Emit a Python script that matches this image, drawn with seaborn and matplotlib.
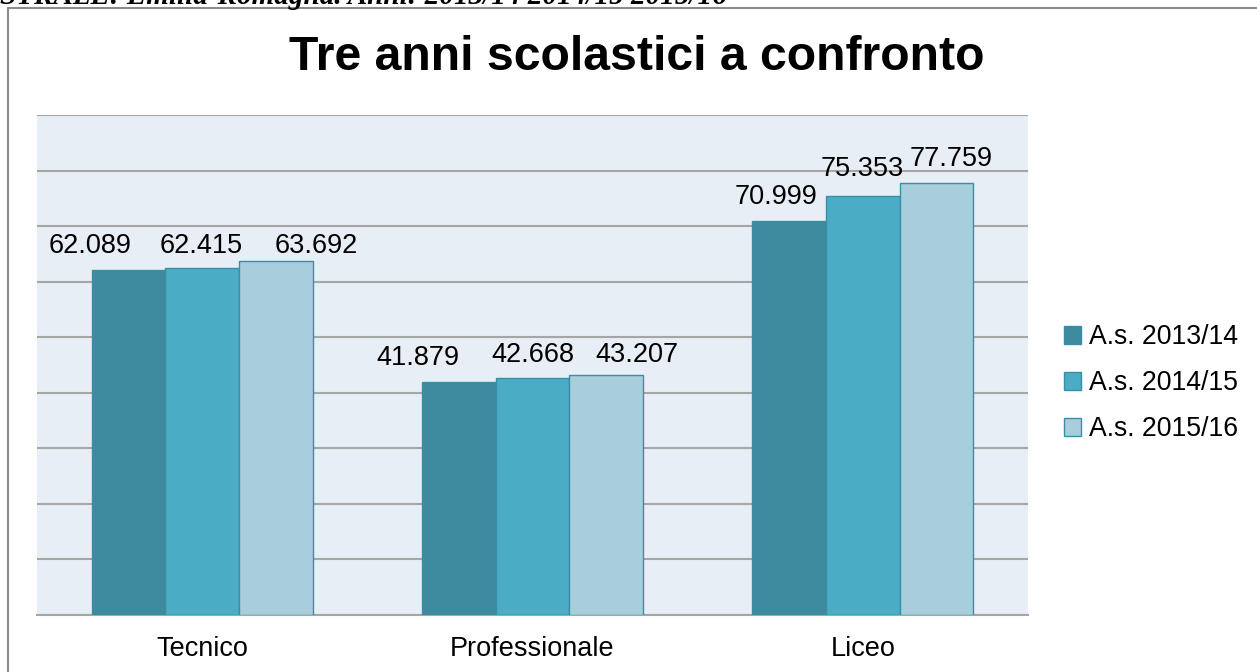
import numpy as np
import pandas as pd
import matplotlib
matplotlib.use("Agg")
import matplotlib.pyplot as plt
from matplotlib.patches import Patch
from matplotlib.lines import Line2D
import seaborn as sns

# dati
categorie = ["Tecnico", "Professionale", "Liceo"]
anni = ["A.s. 2013/14", "A.s. 2014/15", "A.s. 2015/16"]
as_2013_14 = [62089, 41879, 70999]
as_2014_15 = [62415, 42668, 75353]
as_2015_16 = [63692, 43207, 77759]
colori = ["#3E8A9F", "#4BACC6", "#A8CEDC"]

# spostamento delle etichette (pixel) come nell'originale: per anno, per categoria
label_dx = [[-38, -41, -13], [-1, 0, -1], [40, 31, 15]]
label_dy = [[17, 17, 17], [15, 16, 20], [8, 13, 17]]

df = pd.DataFrame({
    "tipo": categorie * 3,
    "anno": [a for a in anni for _ in categorie],
    "studenti": as_2013_14 + as_2014_15 + as_2015_16,
})

sns.set_style("white")
plt.rcParams['font.family'] = ['Liberation Sans', 'DejaVu Sans']
plt.rcParams['text.color'] = 'black'
plt.rcParams['xtick.color'] = 'black'

W, H = 1257, 672
fig = plt.figure(figsize=(W / 100, H / 100), dpi=100)
ax = fig.add_axes([37 / W, 1 - 615 / H, (1028 - 37) / W, (615 - 115) / H])
ax.set_facecolor("#E8EEF5")

sns.barplot(data=df, x="tipo", y="studenti", hue="anno", order=categorie,
            hue_order=anni, palette=colori, width=0.67, saturation=1,
            edgecolor="#3A8FA6", linewidth=1, legend=False, ax=ax, zorder=3)

for i, cont in enumerate(ax.containers):
    for j, (bar, v) in enumerate(zip(cont.patches, cont.datavalues)):
        txt = f"{int(v):,}".replace(",", ".")
        ax.annotate(txt, (bar.get_x() + bar.get_width() / 2, bar.get_height()),
                    xytext=(label_dx[i][j] * 0.72, label_dy[i][j] * 0.72),
                    textcoords="offset points", ha="center", va="baseline",
                    fontsize=19.5, color="black", zorder=5)

ax.set_xlim(-0.5, 2.5)
ax.set_ylim(0, 90000)
ax.set_yticks(np.arange(0, 90001, 10000))
ax.yaxis.grid(True, color="#A6A6A6", linewidth=1.5, zorder=0)
ax.set_axisbelow(True)
ax.tick_params(axis="y", left=False, labelleft=False)
ax.set_xticks([0, 1, 2])
ax.set_xticklabels(categorie, fontsize=19.5)
ax.set_xticks([-0.5, 0.5, 1.5, 2.5], minor=True)
ax.tick_params(axis="x", which="major", length=0, pad=15)
ax.tick_params(axis="x", which="minor", length=8, width=1.5, color="#A6A6A6")
ax.set_xlabel("")
ax.set_ylabel("")
for s in ["left", "right", "top"]:
    ax.spines[s].set_visible(False)
ax.spines["bottom"].set_color("#A6A6A6")
ax.spines["bottom"].set_linewidth(1.5)

fig.text(637 / W, 1 - 57 / H, "Tre anni scolastici a confronto", ha="center",
         va="center", fontsize=34.7, fontweight="bold", color="black")

handles = [Patch(facecolor=c, edgecolor="#3A8FA6", linewidth=1) for c in colori]
fig.legend(handles, anni, loc="center left", bbox_to_anchor=(1064 / W, 1 - 383 / H),
           frameon=False, fontsize=19.2, handlelength=0.65, handleheight=0.65,
           handletextpad=0.3, labelspacing=0.75, borderpad=0, borderaxespad=0)

# cornice del riquadro e testo tagliato in alto
fig.add_artist(Line2D([8 / W, 1], [1 - 8 / H, 1 - 8 / H], color="#8C8C8C", lw=1.5))
fig.add_artist(Line2D([8 / W, 8 / W], [0, 1 - 8 / H], color="#8C8C8C", lw=1.5))
fig.text(0, 1 - 4 / H, "STRALE: Emilia-Romagna. Anni: 2013/14 2014/15 2015/16",
         ha="left", va="baseline", fontsize=21, fontweight="bold", fontstyle="italic",
         family=["Liberation Serif", "DejaVu Serif"])

fig.savefig("out.png", dpi=100, facecolor="white")
